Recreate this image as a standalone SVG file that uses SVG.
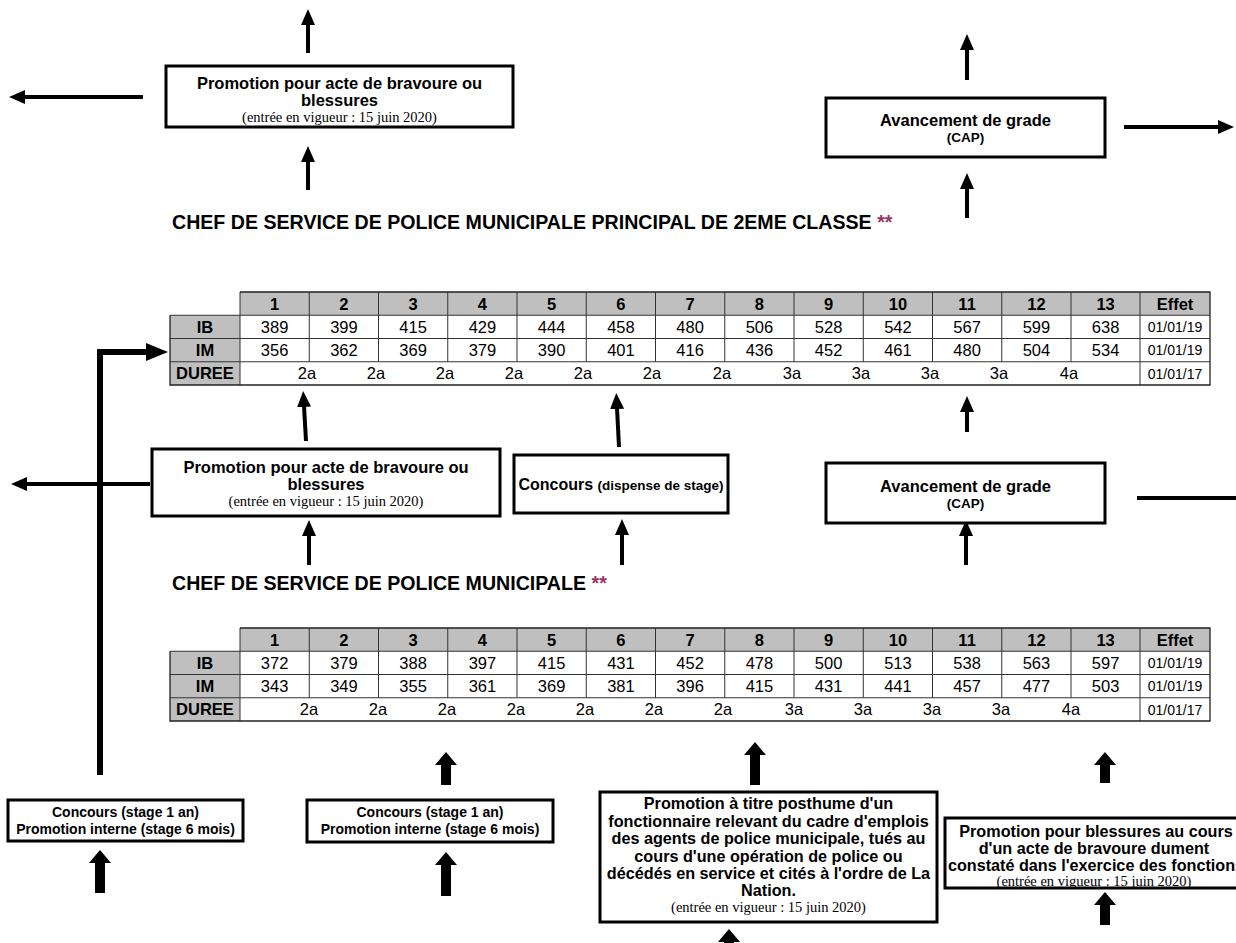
<svg xmlns="http://www.w3.org/2000/svg" width="1236" height="943" viewBox="0 0 1236 943">
<defs>
<style>
.bg{fill:#fff}
.box{fill:#fff;stroke:#000;stroke-width:3}
.b{font-family:"Liberation Sans",Arial,sans-serif;font-weight:bold;fill:#000;text-anchor:middle}
.bt{font-family:"Liberation Sans",Arial,sans-serif;font-weight:bold;fill:#000;font-size:19.6px}
.st{fill:#993366}
.s{font-family:"Liberation Serif","Times New Roman",serif;font-size:14.5px;fill:#000;text-anchor:middle}
.arr{stroke:#000;stroke-width:4;fill:none;marker-end:url(#ah)}
.ln{stroke:#000;stroke-width:4;fill:none}
.thick{fill:#000}
.hd{fill:#bfbfbf}
.g{stroke:#333;stroke-width:1}
.go{stroke:#222;stroke-width:1.3;fill:none}
.n{font-family:"Liberation Sans",Arial,sans-serif;font-size:16.5px;fill:#000;text-anchor:middle}
.nb{font-family:"Liberation Sans",Arial,sans-serif;font-size:16.5px;font-weight:bold;fill:#000;text-anchor:middle}
.d{font-family:"Liberation Sans",Arial,sans-serif;font-size:14px;fill:#000;text-anchor:middle}
</style>
<marker id="ah" markerUnits="userSpaceOnUse" markerWidth="16" markerHeight="14" refX="1" refY="7" orient="auto">
<path d="M0,0 L16,7 L0,14 z" fill="#000"/>
</marker>
<marker id="ahL" markerUnits="userSpaceOnUse" markerWidth="22" markerHeight="18" refX="1" refY="9" orient="auto">
<path d="M0,0 L22,9 L0,18 z" fill="#000"/>
</marker>
</defs>
<rect class="bg" x="0" y="0" width="1236" height="943"/>

<g id="connectors">
<line class="arr" x1="308" y1="53" x2="308" y2="24"/>
<line class="arr" x1="143" y1="97" x2="24" y2="97"/>
<line class="arr" x1="308" y1="190" x2="308" y2="161"/>
<line class="arr" x1="967" y1="80" x2="967" y2="49"/>
<line class="arr" x1="1124" y1="127" x2="1219" y2="127"/>
<line class="arr" x1="967" y1="218" x2="967" y2="188"/>
<line class="arr" x1="306" y1="441" x2="304" y2="406"/>
<line class="arr" x1="619" y1="447" x2="617" y2="408"/>
<line class="arr" x1="967" y1="432" x2="967" y2="411"/>
<line class="arr" x1="150" y1="484" x2="26" y2="484"/>
<line class="arr" x1="309" y1="565" x2="309" y2="535"/>
<line class="arr" x1="622" y1="565" x2="622" y2="534"/>
<line class="arr" x1="966" y1="565" x2="966" y2="535"/>
<line class="ln" x1="1137" y1="498" x2="1236" y2="498"/>
<polyline fill="none" stroke="#000" stroke-width="6" points="100,775 100,352 147,352" marker-end="url(#ahL)"/>
<polygon class="thick" points="441,785 441,765 435,765 446,752 457,765 451,765 451,785"/>
<polygon class="thick" points="750,785 750,755 744,755 755,742 766,755 760,755 760,785"/>
<polygon class="thick" points="1100,783 1100,765 1094,765 1105,752 1116,765 1110,765 1110,783"/>
<polygon class="thick" points="95,893 95,863 89,863 100,850 111,863 105,863 105,893"/>
<polygon class="thick" points="441,896 441,865 435,865 446,852 457,865 451,865 451,896"/>
<polygon class="thick" points="1100,925 1100,905 1094,905 1105,892 1116,905 1110,905 1110,925"/>
<polygon class="thick" points="724,943 724,942 718,942 729,929 740,942 734,942 734,943"/>
</g>

<g id="node-bravoure-top">
<rect class="box" x="166" y="66" width="347" height="61"/>
<text class="b" x="339.5" y="89" font-size="16.5">Promotion pour acte de bravoure ou</text>
<text class="b" x="339.5" y="106" font-size="16.5">blessures</text>
<text class="s" x="339.5" y="122">(entrée en vigueur : 15 juin 2020)</text>
</g>

<g id="node-avancement-top">
<rect class="box" x="826" y="98" width="279" height="59"/>
<text class="b" x="965.5" y="126" font-size="16.5">Avancement de grade</text>
<text class="b" x="965.5" y="142" font-size="13.5">(CAP)</text>
</g>

<g id="title-1">
<text class="bt" x="172" y="229">CHEF DE SERVICE DE POLICE MUNICIPALE PRINCIPAL DE 2EME CLASSE <tspan class="st">**</tspan></text>
</g>

<g id="table-1">
<rect class="hd" x="240" y="292" width="970" height="23.25"/>
<rect class="hd" x="170" y="315.25" width="70" height="69.75"/>
<rect x="240" y="315.25" width="970" height="69.75" fill="#fff"/>
<line class="g" x1="170" y1="338.5" x2="1210" y2="338.5"/>
<line class="g" x1="170" y1="361.75" x2="1210" y2="361.75"/>
<line class="g" x1="170" y1="315.25" x2="1210" y2="315.25"/>
<line class="g" x1="309.25" y1="292" x2="309.25" y2="361.75"/>
<line class="g" x1="378.5" y1="292" x2="378.5" y2="361.75"/>
<line class="g" x1="447.75" y1="292" x2="447.75" y2="361.75"/>
<line class="g" x1="517" y1="292" x2="517" y2="361.75"/>
<line class="g" x1="586.25" y1="292" x2="586.25" y2="361.75"/>
<line class="g" x1="655.5" y1="292" x2="655.5" y2="361.75"/>
<line class="g" x1="724.75" y1="292" x2="724.75" y2="361.75"/>
<line class="g" x1="794" y1="292" x2="794" y2="361.75"/>
<line class="g" x1="863.25" y1="292" x2="863.25" y2="361.75"/>
<line class="g" x1="932.5" y1="292" x2="932.5" y2="361.75"/>
<line class="g" x1="1001.75" y1="292" x2="1001.75" y2="361.75"/>
<line class="g" x1="1071" y1="292" x2="1071" y2="361.75"/>
<line class="g" x1="1140" y1="292" x2="1140" y2="385"/>
<line class="g" x1="240" y1="292" x2="240" y2="385"/>
<polyline class="go" points="240,292 1210,292 1210,385 170,385 170,315.25"/>
<g class="nb">
<text x="274.6" y="309.6">1</text><text x="343.9" y="309.6">2</text><text x="413.1" y="309.6">3</text><text x="482.4" y="309.6">4</text><text x="551.6" y="309.6">5</text><text x="620.9" y="309.6">6</text><text x="690.1" y="309.6">7</text><text x="759.4" y="309.6">8</text><text x="828.6" y="309.6">9</text><text x="897.9" y="309.6">10</text><text x="967.1" y="309.6">11</text><text x="1036.4" y="309.6">12</text><text x="1105.6" y="309.6">13</text><text x="1175" y="309.6">Effet</text>
<text x="205" y="332.9">IB</text><text x="205" y="356.1">IM</text><text x="205" y="379.4">DUREE</text>
</g>
<g class="n">
<text x="274.6" y="332.9">389</text><text x="343.9" y="332.9">399</text><text x="413.1" y="332.9">415</text><text x="482.4" y="332.9">429</text><text x="551.6" y="332.9">444</text><text x="620.9" y="332.9">458</text><text x="690.1" y="332.9">480</text><text x="759.4" y="332.9">506</text><text x="828.6" y="332.9">528</text><text x="897.9" y="332.9">542</text><text x="967.1" y="332.9">567</text><text x="1036.4" y="332.9">599</text><text x="1105.6" y="332.9">638</text>
<text x="274.6" y="356.1">356</text><text x="343.9" y="356.1">362</text><text x="413.1" y="356.1">369</text><text x="482.4" y="356.1">379</text><text x="551.6" y="356.1">390</text><text x="620.9" y="356.1">401</text><text x="690.1" y="356.1">416</text><text x="759.4" y="356.1">436</text><text x="828.6" y="356.1">452</text><text x="897.9" y="356.1">461</text><text x="967.1" y="356.1">480</text><text x="1036.4" y="356.1">504</text><text x="1105.6" y="356.1">534</text>
<text x="307" y="379.4">2a</text><text x="376" y="379.4">2a</text><text x="445" y="379.4">2a</text><text x="514" y="379.4">2a</text><text x="583" y="379.4">2a</text><text x="652" y="379.4">2a</text><text x="722" y="379.4">2a</text><text x="792" y="379.4">3a</text><text x="861" y="379.4">3a</text><text x="930" y="379.4">3a</text><text x="999" y="379.4">3a</text><text x="1069" y="379.4">4a</text>
</g>
<g class="d">
<text x="1175" y="332">01/01/19</text><text x="1175" y="355.2">01/01/19</text><text x="1175" y="378.5">01/01/17</text>
</g>
</g>

<g id="node-bravoure-mid">
<rect class="box" x="152" y="449" width="348" height="67"/>
<text class="b" x="326" y="473" font-size="16.5">Promotion pour acte de bravoure ou</text>
<text class="b" x="326" y="490" font-size="16.5">blessures</text>
<text class="s" x="326" y="506">(entrée en vigueur : 15 juin 2020)</text>
</g>

<g id="node-concours-dispense">
<rect class="box" x="514" y="455" width="214" height="58"/>
<text class="b" x="621" y="490" font-size="16">Concours <tspan font-size="13.5">(dispense de stage)</tspan></text>
</g>

<g id="node-avancement-mid">
<rect class="box" x="826" y="463" width="279" height="60"/>
<text class="b" x="965.5" y="492" font-size="16.5">Avancement de grade</text>
<text class="b" x="965.5" y="508" font-size="13.5">(CAP)</text>
</g>

<g id="title-2">
<text class="bt" x="172" y="590">CHEF DE SERVICE DE POLICE MUNICIPALE <tspan class="st">**</tspan></text>
</g>

<g id="table-2">
<rect class="hd" x="240" y="628" width="970" height="23.25"/>
<rect class="hd" x="170" y="651.25" width="70" height="69.75"/>
<rect x="240" y="651.25" width="970" height="69.75" fill="#fff"/>
<line class="g" x1="170" y1="651.25" x2="1210" y2="651.25"/>
<line class="g" x1="170" y1="674.5" x2="1210" y2="674.5"/>
<line class="g" x1="170" y1="697.75" x2="1210" y2="697.75"/>
<line class="g" x1="309.25" y1="628" x2="309.25" y2="697.75"/>
<line class="g" x1="378.5" y1="628" x2="378.5" y2="697.75"/>
<line class="g" x1="447.75" y1="628" x2="447.75" y2="697.75"/>
<line class="g" x1="517" y1="628" x2="517" y2="697.75"/>
<line class="g" x1="586.25" y1="628" x2="586.25" y2="697.75"/>
<line class="g" x1="655.5" y1="628" x2="655.5" y2="697.75"/>
<line class="g" x1="724.75" y1="628" x2="724.75" y2="697.75"/>
<line class="g" x1="794" y1="628" x2="794" y2="697.75"/>
<line class="g" x1="863.25" y1="628" x2="863.25" y2="697.75"/>
<line class="g" x1="932.5" y1="628" x2="932.5" y2="697.75"/>
<line class="g" x1="1001.75" y1="628" x2="1001.75" y2="697.75"/>
<line class="g" x1="1071" y1="628" x2="1071" y2="697.75"/>
<line class="g" x1="1140" y1="628" x2="1140" y2="721"/>
<line class="g" x1="240" y1="628" x2="240" y2="721"/>
<polyline class="go" points="240,628 1210,628 1210,721 170,721 170,651.25"/>
<g class="nb">
<text x="274.6" y="645.6">1</text><text x="343.9" y="645.6">2</text><text x="413.1" y="645.6">3</text><text x="482.4" y="645.6">4</text><text x="551.6" y="645.6">5</text><text x="620.9" y="645.6">6</text><text x="690.1" y="645.6">7</text><text x="759.4" y="645.6">8</text><text x="828.6" y="645.6">9</text><text x="897.9" y="645.6">10</text><text x="967.1" y="645.6">11</text><text x="1036.4" y="645.6">12</text><text x="1105.6" y="645.6">13</text><text x="1175" y="645.6">Effet</text>
<text x="205" y="668.9">IB</text><text x="205" y="692.1">IM</text><text x="205" y="715.4">DUREE</text>
</g>
<g class="n">
<text x="274.6" y="668.9">372</text><text x="343.9" y="668.9">379</text><text x="413.1" y="668.9">388</text><text x="482.4" y="668.9">397</text><text x="551.6" y="668.9">415</text><text x="620.9" y="668.9">431</text><text x="690.1" y="668.9">452</text><text x="759.4" y="668.9">478</text><text x="828.6" y="668.9">500</text><text x="897.9" y="668.9">513</text><text x="967.1" y="668.9">538</text><text x="1036.4" y="668.9">563</text><text x="1105.6" y="668.9">597</text>
<text x="274.6" y="692.1">343</text><text x="343.9" y="692.1">349</text><text x="413.1" y="692.1">355</text><text x="482.4" y="692.1">361</text><text x="551.6" y="692.1">369</text><text x="620.9" y="692.1">381</text><text x="690.1" y="692.1">396</text><text x="759.4" y="692.1">415</text><text x="828.6" y="692.1">431</text><text x="897.9" y="692.1">441</text><text x="967.1" y="692.1">457</text><text x="1036.4" y="692.1">477</text><text x="1105.6" y="692.1">503</text>
<text x="309" y="715.4">2a</text><text x="378" y="715.4">2a</text><text x="447" y="715.4">2a</text><text x="516" y="715.4">2a</text><text x="585" y="715.4">2a</text><text x="654" y="715.4">2a</text><text x="723" y="715.4">2a</text><text x="794" y="715.4">3a</text><text x="863" y="715.4">3a</text><text x="932" y="715.4">3a</text><text x="1001" y="715.4">3a</text><text x="1071" y="715.4">4a</text>
</g>
<g class="d">
<text x="1175" y="668">01/01/19</text><text x="1175" y="691.2">01/01/19</text><text x="1175" y="714.5">01/01/17</text>
</g>
</g>

<g id="node-concours-1">
<rect class="box" x="8" y="800" width="235" height="41"/>
<text class="b" x="125.5" y="817" font-size="14">Concours (stage 1 an)</text>
<text class="b" x="125.5" y="834" font-size="14">Promotion interne (stage 6 mois)</text>
</g>

<g id="node-concours-2">
<rect class="box" x="307" y="800" width="246" height="42"/>
<text class="b" x="430" y="817" font-size="14">Concours (stage 1 an)</text>
<text class="b" x="430" y="834" font-size="14">Promotion interne (stage 6 mois)</text>
</g>

<g id="node-posthume">
<rect class="box" x="600" y="792" width="337" height="130"/>
<text class="b" x="768.5" y="809" font-size="16.2">Promotion à titre posthume d'un</text>
<text class="b" x="768.5" y="826.5" font-size="16.2">fonctionnaire relevant du cadre d'emplois</text>
<text class="b" x="768.5" y="844" font-size="16.2">des agents de police municipale, tués au</text>
<text class="b" x="768.5" y="861.5" font-size="16.2">cours d'une opération de police ou</text>
<text class="b" x="768.5" y="879" font-size="16.2">décédés en service et cités à l'ordre de La</text>
<text class="b" x="768.5" y="896" font-size="16.2">Nation.</text>
<text class="s" x="768.5" y="912">(entrée en vigueur : 15 juin 2020)</text>
</g>

<g id="node-blessures">
<rect class="box" x="945" y="818" width="300" height="70"/>
<text class="b" x="1096" y="837" font-size="16.2">Promotion pour blessures au cours</text>
<text class="b" x="1094" y="854" font-size="16.2">d'un acte de bravoure dument</text>
<text class="b" x="1096" y="871" font-size="16.2">constaté dans l'exercice des fonctions</text>
<text class="s" x="1094" y="886">(entrée en vigueur : 15 juin 2020)</text>
</g>
</svg>
